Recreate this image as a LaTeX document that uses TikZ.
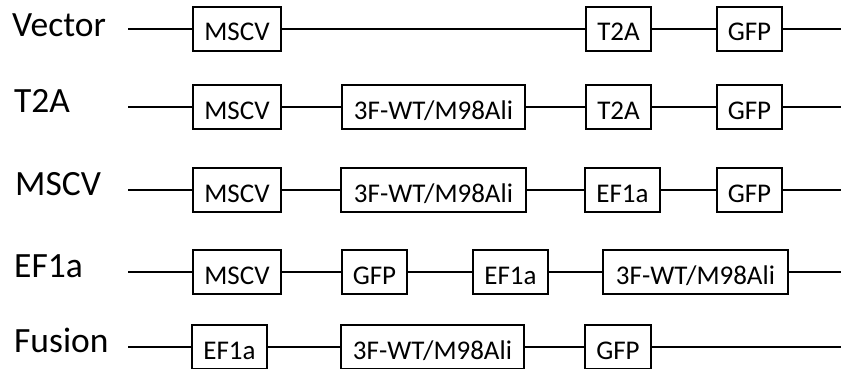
\documentclass[tikz,border=0pt]{standalone}
\usepackage{fontspec}
\setmainfont{Carlito}
\begin{document}
\begin{tikzpicture}[x=1pt,y=-1pt,
  box/.style={draw=black, line width=1.4pt, fill=white, inner sep=0pt,
    minimum height=44pt, text height=24pt, text depth=0pt,
    font=\fontsize{27}{27}\selectfont},
  wire/.style={line width=2pt, black},
  rowlabel/.style={anchor=base west, inner sep=0pt, font=\fontsize{35.5}{35.5}\selectfont}]
\useasboundingbox (0,0) rectangle (841,369);

% Row 1: Vector
\node[rowlabel] (l1) at (12,37) {Vector};
\coordinate (s1) at (128,29);
\coordinate (e1) at (841,29);
\node[box, minimum width=88pt] (a1) at (237,29) {MSCV};
\node[box, minimum width=65pt] (b1) at (618.5,29) {T2A};
\node[box, minimum width=65pt] (c1) at (749.5,29) {GFP};
\draw[wire] (s1) -- (a1.west) (a1.east) -- (b1.west) (b1.east) -- (c1.west) (c1.east) -- (e1);

% Row 2: T2A
\node[rowlabel] (l2) at (14,113) {T2A};
\coordinate (s2) at (128,107);
\coordinate (e2) at (841,107);
\node[box, minimum width=88pt] (a2) at (237,107) {MSCV};
\node[box, minimum width=183pt] (b2) at (433.5,107) {3F-WT/M98Ali};
\node[box, minimum width=65pt] (c2) at (618.5,107) {T2A};
\node[box, minimum width=65pt] (d2) at (749.5,107) {GFP};
\draw[wire] (s2) -- (a2.west) (a2.east) -- (b2.west) (b2.east) -- (c2.west) (c2.east) -- (d2.west) (d2.east) -- (e2);

% Row 3: MSCV
\node[rowlabel] (l3) at (15,195) {MSCV};
\coordinate (s3) at (128,190);
\coordinate (e3) at (841,190);
\node[box, minimum width=88pt] (a3) at (237,190) {MSCV};
\node[box, minimum width=185pt] (b3) at (433.5,190) {3F-WT/M98Ali};
\node[box, minimum width=75pt] (c3) at (622.5,190) {EF1a};
\node[box, minimum width=65pt] (d3) at (749.5,190) {GFP};
\draw[wire] (s3) -- (a3.west) (a3.east) -- (b3.west) (b3.east) -- (c3.west) (c3.east) -- (d3.west) (d3.east) -- (e3);

% Row 4: EF1a
\node[rowlabel] (l4) at (14,277) {EF1a};
\coordinate (s4) at (128,272);
\coordinate (e4) at (841,272);
\node[box, minimum width=88pt] (a4) at (237,272) {MSCV};
\node[box, minimum width=65pt] (b4) at (374.5,272) {GFP};
\node[box, minimum width=75pt] (c4) at (510.5,272) {EF1a};
\node[box, minimum width=185pt] (d4) at (695.5,272) {3F-WT/M98Ali};
\draw[wire] (s4) -- (a4.west) (a4.east) -- (b4.west) (b4.east) -- (c4.west) (c4.east) -- (d4.west) (d4.east) -- (e4);

% Row 5: Fusion
\node[rowlabel] (l5) at (14,352) {Fusion};
\coordinate (s5) at (128,347);
\coordinate (e5) at (841,347);
\node[box, minimum width=75pt] (a5) at (229.5,347) {EF1a};
\node[box, minimum width=183pt] (b5) at (432.5,347) {3F-WT/M98Ali};
\node[box, minimum width=66pt] (c5) at (618,347) {GFP};
\draw[wire] (s5) -- (a5.west) (a5.east) -- (b5.west) (b5.east) -- (c5.west) (c5.east) -- (e5);
\end{tikzpicture}
\end{document}
